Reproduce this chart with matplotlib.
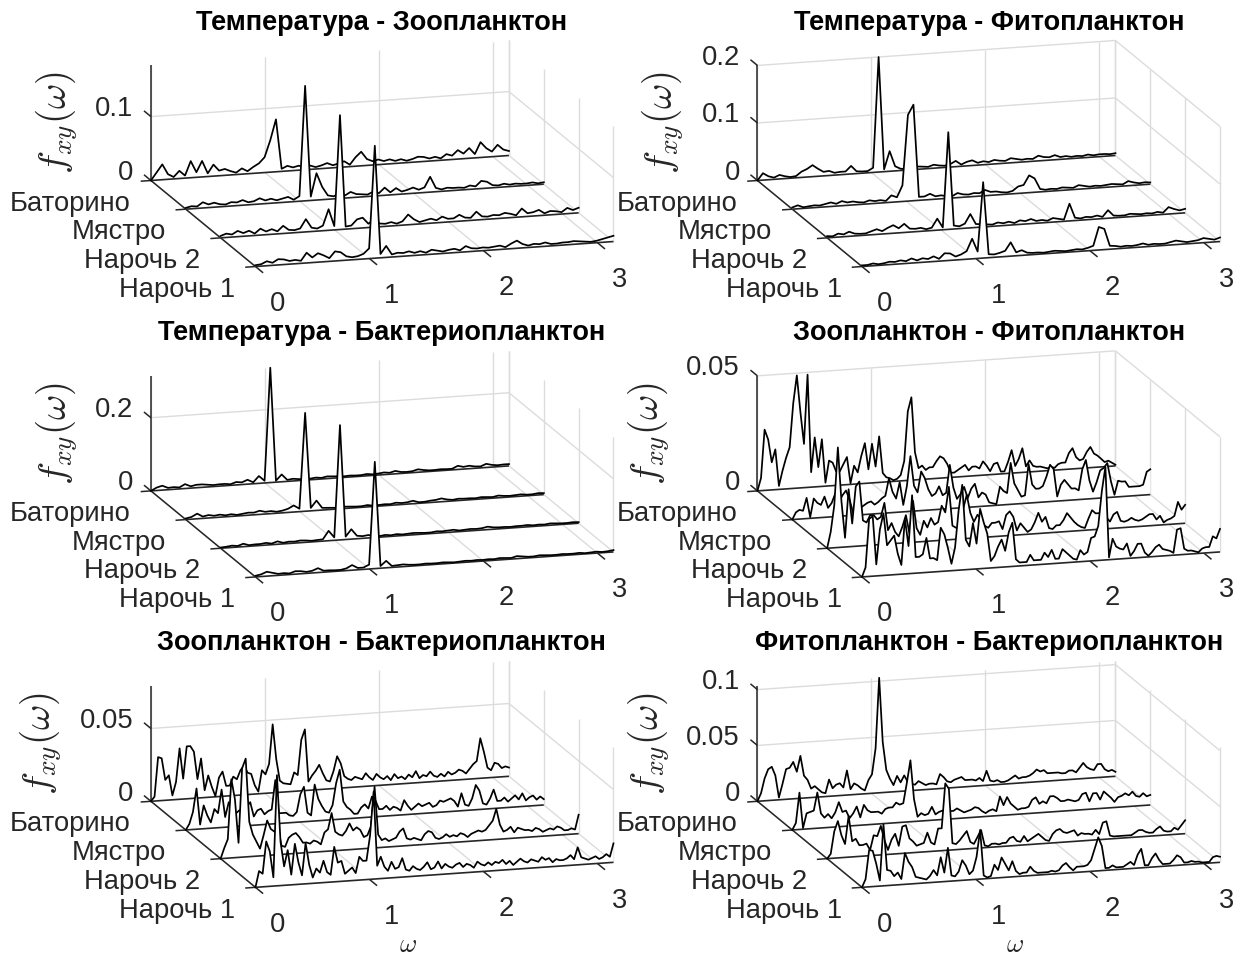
import numpy as np
import matplotlib
matplotlib.use("Agg")
import matplotlib.pyplot as plt
from mpl_toolkits.mplot3d import proj3d

# =========================
# DATA (samples evenly spaced on 0..pi)
# =========================
rows = ["Баторино", "Мястро", "Нарочь 2", "Нарочь 1"]
row_y = [3, 2, 1, 0]
w_ticks = [0, 1, 2, 3]

# thousandths
temp_zoo = [
    [0,12,24,8,3,12,4,26,8,25,5,18,8,10,6,3,
     9,4,10,15,24,50,82,4,8,5,7,4,6,3,5,8,
     4,6,9,3,14,22,10,6,8,5,7,4,6,3,5,8,
     7,4,6,3,9,6,14,8,16,6,24,14,8,18,10,7],
    [2,4,3,9,5,7,4,3,6,5,8,4,5,9,5,7,
     4,6,8,3,8,180,6,42,20,6,4,7,4,9,5,4,
     3,7,4,12,4,10,4,6,9,5,8,24,6,3,5,4,
     4,3,6,4,12,10,4,3,5,3,4,3,3,4,2,3],
    [3,6,4,9,5,8,3,10,5,8,4,12,5,4,6,20,
     6,4,8,33,6,179,4,5,14,16,6,12,5,4,6,3,
     6,16,8,3,5,7,4,9,5,5,10,5,4,13,5,4,
     6,5,8,6,3,13,5,6,9,3,6,5,3,9,5,8],
    [2,3,7,4,9,8,5,6,4,16,8,14,10,5,15,13,
     6,4,5,8,16,176,6,18,4,6,5,7,4,6,3,7,
     5,3,5,6,3,9,5,4,5,4,5,6,3,8,12,6,
     3,5,4,6,3,3,4,4,5,4,3,2,3,5,7,9],
]
temp_phyto = [
    [0,12,6,3,7,4,2,3,10,14,20,13,7,8,4,5,
     5,14,4,3,3,8,200,4,35,8,3,2,3,5,4,3,
     6,4,3,5,10,3,7,9,4,6,4,7,5,4,8,6,
     4,5,4,9,6,5,8,4,5,3,4,3,5,3,4,4,3,4],
    [3,6,2,3,4,3,5,7,4,8,5,6,4,3,6,4,
     5,3,12,8,28,150,167,6,6,10,5,6,4,3,8,5,
     4,6,5,10,6,6,4,3,5,12,14,30,24,5,3,4,
     3,5,4,3,7,5,3,4,3,4,5,4,3,8,5,3,4,3],
    [3,2,6,4,8,4,3,3,6,9,5,10,14,8,15,6,
     5,6,3,5,20,4,169,6,4,8,24,6,5,4,3,6,
     4,6,3,7,5,8,4,5,3,7,5,3,30,5,3,5,
     4,6,3,14,4,3,3,5,4,3,4,3,5,3,12,8,5,7],
    [2,2,4,2,3,5,4,6,4,8,4,7,5,9,4,13,
     12,6,9,14,35,12,132,6,5,7,10,24,6,9,4,3,
     3,2,3,4,3,2,3,4,3,5,8,40,36,6,5,3,
     4,3,4,6,3,4,3,3,5,7,5,3,4,5,8,6,4,7],
]
temp_bact = [
    [0,8,12,5,6,4,12,5,8,8,6,4,5,5,3,8,
     6,12,4,20,6,314,4,20,4,6,4,3,3,5,3,6,
     5,4,3,4,3,3,5,3,4,6,4,8,4,3,4,8,
     5,3,3,4,3,3,10,6,8,5,4,10,6,4,5,5],
    [3,6,14,5,8,5,7,4,6,3,5,7,6,10,6,7,
     4,6,10,18,8,269,8,27,6,5,4,3,5,4,3,3,
     5,2,3,4,3,6,4,5,8,3,3,5,6,9,5,3,
     5,4,4,3,5,4,3,6,4,3,4,5,3,3,5,4],
    [2,3,5,3,8,3,4,4,6,3,8,3,5,4,6,5,
     3,4,5,27,8,314,8,27,8,6,8,4,3,5,3,5,
     3,4,5,4,3,3,5,4,5,6,3,4,5,4,5,8,
     5,4,4,3,4,4,5,3,4,3,5,4,3,3,4,3],
    [3,6,12,8,4,5,3,8,7,4,6,12,4,4,3,3,
     6,14,5,5,12,292,6,19,4,5,6,4,3,3,4,3,
     3,4,3,2,3,4,3,4,3,4,3,5,4,3,7,5,
     3,3,5,4,3,3,4,3,3,4,2,3,4,2,3,5],
]
# ten-thousandths
zoo_phyto = [
    [0,55,264,220,120,175,15,80,135,180,
     370,490,330,190,490,65,215,85,205,15,
     110,100,60,60,90,120,5,80,50,120,
     175,60,170,70,200,40,20,15,5,10,
     25,85,300,360,120,50,60,40,50,50,
     75,95,85,60,20,20,30,40,50,25,
     40,40,30,60,40,15,45,50,10,10,
     50,100,30,60,105,25,50,25,20,20,
     15,10,15,10,25,30,30,70,90,50,
     35,40,70,90,60,50,35,20,25,15,5],
    [0,30,40,35,90,5,85,65,55,90,
     40,60,100,60,90,110,70,10,30,30,
     40,50,55,40,50,65,75,150,90,60,
     130,30,110,240,110,80,170,140,90,60,
     70,100,60,70,190,90,40,60,90,40,
     80,100,40,60,50,15,10,5,80,60,
     50,180,90,60,30,35,170,80,60,60,
     70,110,160,140,20,70,90,70,50,50,
     40,130,170,80,30,70,120,130,150,70,
     10,70,65,65,40,40,40,40,45,100,110],
    [0,70,185,435,200,40,250,100,260,280,
     110,100,130,130,110,120,180,60,90,50,
     30,70,120,40,180,60,30,90,60,100,
     70,80,150,120,230,60,50,40,130,190,
     110,70,100,80,50,40,60,60,65,30,
     90,105,80,20,50,30,10,20,50,90,
     50,70,20,15,30,30,50,80,60,40,
     25,15,10,50,85,70,70,60,50,30,
     60,70,30,25,30,40,30,25,30,40,
     50,50,25,40,10,20,25,35,95,60,80],
    [0,40,250,260,50,200,270,130,150,170,
     90,40,240,120,340,70,70,80,150,60,
     60,50,190,160,100,30,100,260,370,130,
     100,200,110,260,200,150,30,50,90,120,
     70,150,190,30,15,15,15,45,20,20,
     20,50,30,60,20,20,60,45,30,15,
     10,50,30,40,100,105,150,300,405,10,
     90,55,45,40,65,10,30,60,60,20,
     5,20,40,50,30,25,20,10,110,115,
     25,15,15,10,5,20,25,25,70,60,100],
]
zoo_bact = [
    [0,30,300,290,140,170,30,120,350,140,
     360,360,320,130,270,50,150,70,5,130,
     170,70,70,130,110,170,200,150,140,60,
     15,160,130,200,470,230,80,60,55,50,
     130,110,350,420,60,100,130,170,110,60,
     50,120,220,170,80,60,50,70,60,50,
     90,60,40,80,55,40,60,30,70,40,
     50,30,60,40,80,30,50,40,70,40,
     30,50,30,60,40,50,70,60,40,70,
     100,120,275,180,70,50,100,90,60,70,60],
    [0,40,120,280,30,160,90,40,130,100,
     260,70,170,100,90,110,100,130,160,60,
     100,110,70,90,100,300,70,70,70,50,
     45,70,190,240,60,40,250,150,100,60,
     50,100,250,340,120,80,60,30,30,70,
     90,60,140,110,50,50,70,40,60,50,
     30,100,60,30,50,70,50,60,70,40,
     50,80,70,80,90,70,30,120,40,30,
     80,170,130,40,30,70,130,50,50,70,
     40,60,80,50,90,40,60,70,40,60,40],
    [0,70,130,540,400,100,610,675,240,150,
     100,50,140,240,180,160,190,60,50,110,
     130,140,110,70,70,60,80,70,50,130,
     150,260,130,110,100,130,180,130,150,130,
     80,90,150,420,90,50,60,40,50,60,
     100,120,50,40,50,40,30,70,90,80,
     40,30,40,60,40,50,40,60,50,30,
     50,60,70,60,70,100,130,210,100,50,
     60,80,40,70,60,50,50,40,60,50,
     30,40,50,40,60,50,30,30,40,30,130],
    [0,110,90,310,240,60,760,300,130,240,
     70,280,150,60,280,130,40,100,70,150,
     70,50,240,130,140,50,70,90,50,160,
     130,130,300,600,90,150,80,50,110,60,
     70,130,50,40,70,50,40,60,90,40,
     50,90,40,70,50,40,60,70,40,60,
     50,30,70,50,40,60,40,60,50,70,
     40,60,30,50,70,50,40,60,50,40,
     70,50,60,30,50,40,40,50,70,40,
     120,50,40,30,40,50,30,40,60,40,130],
]
# thousandths
phyto_bact = [
    [0,7,20,28,30,22,2,14,27,28,
     33,24,38,20,16,8,10,7,4,3,
     15,7,10,11,7,22,5,10,8,5,
     3,12,17,40,103,45,20,12,6,14,
     8,14,8,6,5,8,6,4,5,5,
     4,13,10,6,5,7,8,9,6,6,
     6,5,7,4,13,4,3,4,2,2,
     3,5,7,4,5,5,6,8,11,9,
     10,7,7,7,7,6,6,8,8,6,
     10,14,10,8,7,12,12,7,5,6,4],
    [0,6,33,1,14,15,16,32,13,9,
     12,8,13,22,13,14,7,11,17,7,
     18,13,11,11,11,9,13,14,14,18,
     16,17,35,55,20,4,7,5,6,12,
     5,7,8,8,7,7,9,7,5,6,
     7,9,8,5,3,5,6,4,17,9,
     16,10,7,4,5,5,6,12,14,8,
     10,8,14,14,12,9,9,10,9,8,
     9,14,15,7,14,14,8,15,12,9,
     5,9,10,12,10,13,9,8,11,8,9],
    [0,4,24,33,20,12,37,14,16,10,
     10,11,5,18,17,26,13,4,13,18,
     7,24,25,13,10,6,7,8,17,8,
     6,20,20,60,55,6,5,8,12,16,
     6,4,10,16,2,1,3,3,2,3,
     3,7,8,4,3,8,3,5,7,9,
     6,3,2,8,11,12,9,8,9,10,
     5,7,6,6,5,9,5,15,16,3,
     2,2,2,2,2,2,4,6,6,4,
     3,3,6,8,4,3,3,6,4,8,12],
    [0,7,33,32,20,5,55,14,13,8,
     11,5,28,20,15,6,5,4,3,6,
     11,6,22,8,30,5,4,8,18,13,
     5,8,20,44,3,1,2,12,7,18,
     12,6,14,5,2,3,3,8,4,2,
     2,2,2,3,2,3,7,9,5,2,
     5,5,5,6,10,20,30,22,2,2,
     4,2,2,2,4,6,3,12,17,2,
     2,8,12,6,2,2,2,5,9,7,
     2,2,3,2,2,1,1,1,5,6,5],
]

titles = ["Температура - Зоопланктон", "Температура - Фитопланктон",
          "Температура - Бактериопланктон", "Зоопланктон - Фитопланктон",
          "Зоопланктон - Бактериопланктон", "Фитопланктон - Бактериопланктон"]
series = [temp_zoo, temp_phyto, temp_bact, zoo_phyto, zoo_bact, phyto_bact]
units = [1e-3, 1e-3, 1e-3, 1e-4, 1e-4, 1e-3]
z_max = [0.18, 0.2, 0.3145, 0.05, 0.079, 0.103]
z_ticks = [[0, 0.1], [0, 0.1, 0.2], [0, 0.2], [0, 0.05], [0, 0.05], [0, 0.05, 0.1]]
z_labels = [["0", "0.1"], ["0", "0.1", "0.2"], ["0", "0.2"], ["0", "0.05"], ["0", "0.05"], ["0", "0.05", "0.1"]]
label_x = [57, 663, 57, 649, 41, 649]

# =========================
# CONFIG
# =========================
W, H = 1244, 958
S = 525.3
FONT = "Liberation Sans"
DARK = "#262626"
GRID = "#dcdcdc"

plt.rcParams["font.family"] = FONT
plt.rcParams["mathtext.fontset"] = "cm"


def seg(ax, xs, ys, zs, color, lw, zorder):
    ax.plot(xs, ys, zs, color=color, lw=lw, zorder=zorder, clip_on=False, solid_capstyle="butt")


def label(ax, x, y, z, txt, ha):
    # plain 2D text placed at the projected 3D position
    xp, yp, _ = proj3d.proj_transform(x, y, z, ax.get_proj())
    ax.text2D(xp, yp, txt, transform=ax.transData, fontsize=19.7, color=DARK,
              ha=ha, va="center", zorder=40, clip_on=False)


def draw_panel(fig, i):
    col, row = i % 2, i // 2
    ox = 151 + 606.5 * col
    oy = 180 + 310.4 * row
    cx, cy = ox + 231.2, oy - 26.5
    left = (cx - 0.5135 * S) / W
    bottom = (H - cy - 0.5135 * S) / H
    ax = fig.add_axes([left, bottom, S / W, S / H], projection="3d", computed_zorder=False)
    ax.set_proj_type("ortho")
    ax.set_box_aspect((372.9, 373.8, 118.5))
    ax.view_init(elev=13.87, azim=-106.24)
    ax.patch.set_alpha(0)
    ax.set_xticks([])
    ax.set_yticks([])
    ax.set_zticks([])
    ax.set_axis_off()

    zm = z_max[i]
    ax.set_xlim(0, np.pi)
    ax.set_ylim(0, 3)
    ax.set_zlim(0, zm)

    # grid on floor and walls
    for w in w_ticks + [np.pi]:
        seg(ax, [w, w], [0, 3], [0, 0], GRID, 1.0, 1)
        seg(ax, [w, w], [3, 3], [0, zm], GRID, 1.0, 1)
    for y in row_y:
        seg(ax, [np.pi, np.pi], [y, y], [0, zm], GRID, 1.0, 1)
    for z in z_ticks[i][1:]:
        seg(ax, [0, np.pi], [3, 3], [z, z], GRID, 1.0, 1)
        seg(ax, [np.pi, np.pi], [3, 0], [z, z], GRID, 1.0, 1)

    # axis lines and ticks
    seg(ax, [0, 0], [3, 0], [0, 0], DARK, 1.1, 2)
    seg(ax, [0, 0], [3, 3], [0, zm], DARK, 1.1, 2)
    for w in w_ticks:
        seg(ax, [w, w], [0, -0.22], [0, 0], DARK, 1.1, 2)
    for y in row_y:
        seg(ax, [0, -0.09], [y, y], [0, 0], DARK, 1.1, 2)
    for z in z_ticks[i]:
        seg(ax, [0, 0], [3, 3.2], [z, z], DARK, 1.1, 2)

    # curves, back row first, white curtain hides what is behind
    for k, vals in enumerate(series[i]):
        z = np.array(vals) * units[i]
        w = np.linspace(0, np.pi, len(z))
        y = np.full(len(z), row_y[k])
        ax.fill_between(w, y, z, w, y, 0 * z, mode="polygon", facecolors="white",
                        linewidth=0, shade=False, zorder=10 + 2 * k, clip_on=False)
        seg(ax, [0, np.pi], [row_y[k], row_y[k]], [0, 0], DARK, 1.2, 11 + 2 * k)
        ax.plot(w, y, z, color="black", lw=1.25, zorder=11 + 2 * k, clip_on=False)

    # tick labels
    for w in w_ticks:
        label(ax, w - 0.185, -1.25, 0, str(w), "center")
    for y, name in zip(row_y, rows):
        label(ax, -0.39, y - 0.70, 0, name, "right")
    for z, txt in zip(z_ticks[i], z_labels[i]):
        label(ax, -0.155, 3, z + 0.078 * zm, txt, "right")

    # title and axis names
    title_x = 381.5 + 608 * col
    fig.text(title_x / W, 1 - (22.5 + 310.3 * row) / H, titles[i], fontsize=19.5, fontweight="bold",
             color="black", ha="center", va="center")
    fig.text(label_x[i] / W, 1 - (123 + 310.5 * row) / H, r"$f_{xy}(\omega)$", fontsize=28,
             color=DARK, rotation=90, ha="center", va="center")
    if row == 2:
        # the omega box has to stay inside the figure
        fig.text((ox + 257) / W, 1 - 945 / H, r"$\omega$", fontsize=19, color=DARK, ha="center", va="center")


# =========================
# MAIN
# =========================
fig = plt.figure(figsize=(W / 100, H / 100), dpi=100, facecolor="white")
for i in range(6):
    draw_panel(fig, i)
fig.savefig("out.png", dpi=100)
